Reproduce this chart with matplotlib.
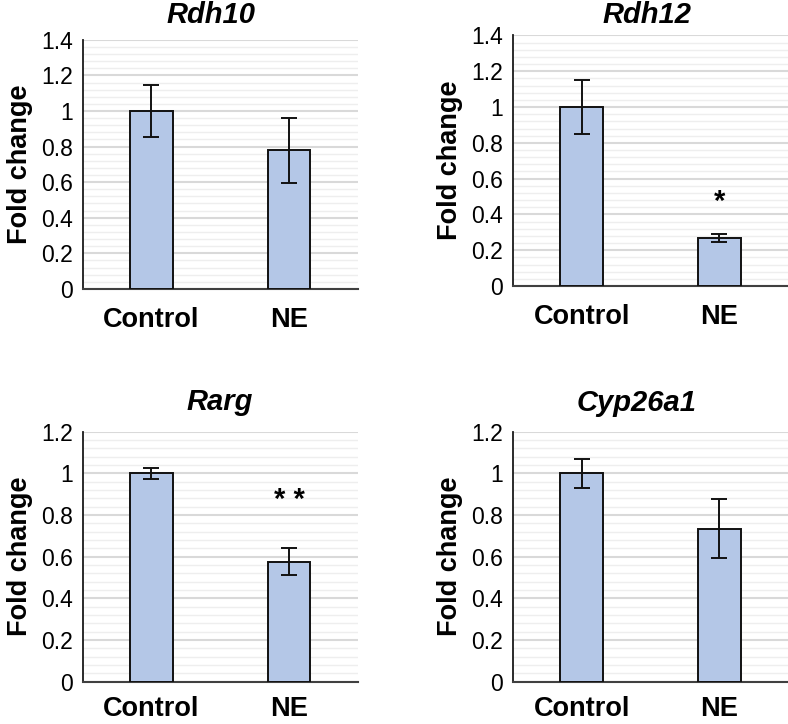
import numpy as np
import matplotlib.pyplot as plt
from matplotlib.ticker import MultipleLocator

plt.rcParams['font.family'] = ['Liberation Sans', 'DejaVu Sans']

groups = ['Control', 'NE']
genes = ['Rdh10', 'Rdh12', 'Rarg', 'Cyp26a1']
means = {'Rdh10': [1.0, 0.78], 'Rdh12': [1.0, 0.267],
         'Rarg': [1.0, 0.576], 'Cyp26a1': [1.0, 0.735]}
errs = {'Rdh10': [0.145, 0.183], 'Rdh12': [0.15, 0.021],
        'Rarg': [0.026, 0.064], 'Cyp26a1': [0.07, 0.143]}
ymax = {'Rdh10': 1.4, 'Rdh12': 1.4, 'Rarg': 1.2, 'Cyp26a1': 1.2}
# significance marks: (text, y)
sig = {'Rdh12': ('*', 0.47), 'Rarg': ('* *', 0.87)}

# axes positions in figure fraction
pos = {'Rdh10': [0.105, 0.601, 0.349, 0.344],
       'Rdh12': [0.651, 0.605, 0.349, 0.346],
       'Rarg': [0.105, 0.0584, 0.349, 0.3454],
       'Cyp26a1': [0.651, 0.0584, 0.349, 0.3454]}
# title position in axes fraction
tpos = {'Rdh10': (0.468, 1.098), 'Rdh12': (0.487, 1.08),
        'Rarg': (0.498, 1.12), 'Cyp26a1': (0.451, 1.115)}

fig = plt.figure(figsize=(7.88, 7.24), dpi=100)

for i, g in enumerate(genes):
    ax = fig.add_axes(pos[g])
    x = np.arange(len(groups))
    ax.bar(x, means[g], width=0.31, color='#b4c7e7', edgecolor='#111111',
           linewidth=1.4, zorder=3)
    ax.errorbar(x, means[g], yerr=errs[g], fmt='none', ecolor='#111111',
                elinewidth=1.4, capsize=6, capthick=1.4, zorder=4)
    ax.set_xlim(-0.5, 1.5)
    ax.set_ylim(0, ymax[g])
    ax.yaxis.set_major_locator(MultipleLocator(0.2))
    ax.yaxis.set_minor_locator(MultipleLocator(0.04))
    ax.grid(axis='y', which='major', color='#d9d9d9', linewidth=1.5, zorder=0)
    ax.grid(axis='y', which='minor', color='#eeeeee', linewidth=1.0, zorder=0)
    ax.set_axisbelow(True)
    for s in ['top', 'right']:
        ax.spines[s].set_visible(False)
    ax.spines['left'].set_color('#1a1a1a')
    ax.spines['bottom'].set_color('#404040')
    ax.spines['left'].set_linewidth(1.3)
    ax.spines['bottom'].set_linewidth(1.5)
    ax.set_xticks(x)
    ax.set_xticklabels(groups, fontsize=19.5, fontweight='bold')
    ax.tick_params(axis='x', length=0, pad=13 if i < 2 else 10)
    ax.tick_params(axis='y', which='both', length=0, labelsize=16.5, pad=7)
    yt = np.arange(0, ymax[g] + 0.001, 0.2)
    ax.set_yticks(yt)
    ax.set_yticklabels(['0' if v == 0 else ('1' if abs(v - 1) < 1e-9 else f'{v:.1f}') for v in yt])
    ax.set_ylabel('Fold change', fontsize=19.5, fontweight='bold', labelpad=6)
    ax.text(tpos[g][0], tpos[g][1], g, transform=ax.transAxes, ha='center',
            va='center', fontsize=21, fontweight='bold', style='italic')
    if g in sig:
        ax.text(1, sig[g][1], sig[g][0], ha='center', va='center',
                fontsize=21, fontweight='bold')

fig.savefig('out.png', dpi=100)
